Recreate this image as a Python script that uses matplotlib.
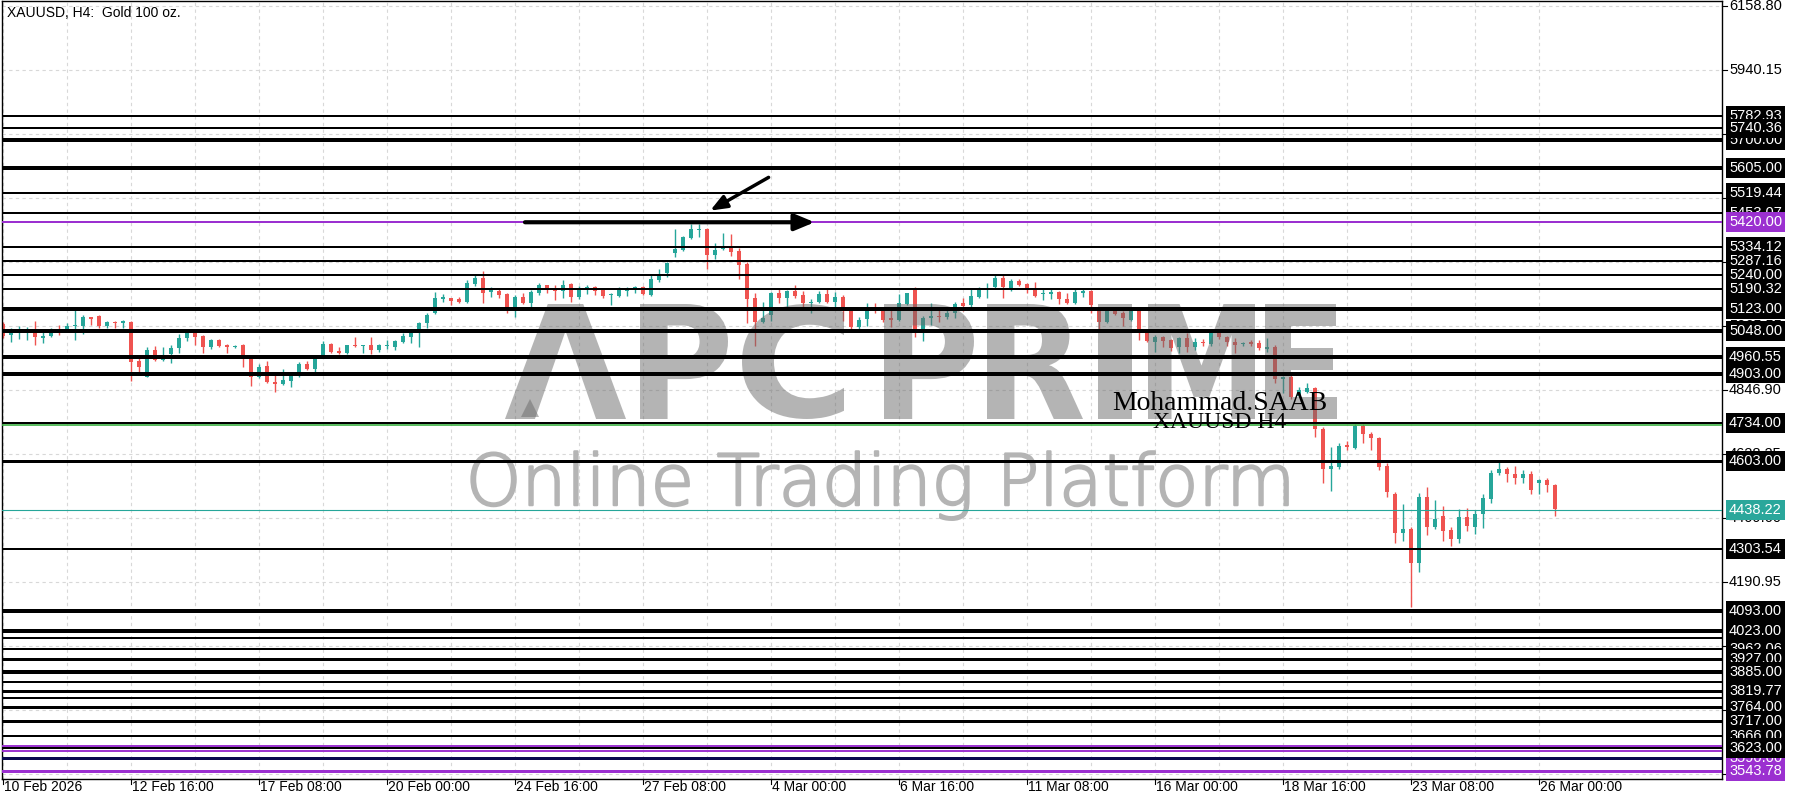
import numpy as np
import matplotlib.pyplot as plt
import matplotlib.transforms as mtransforms
import matplotlib.patheffects as pe
from matplotlib.transforms import blended_transform_factory, Affine2D
from matplotlib.textpath import TextPath
from matplotlib.patches import PathPatch
from matplotlib.font_manager import FontProperties

plt.rcParams['font.family'] = ['Liberation Sans', 'DejaVu Sans']

# ---- XAUUSD H4 candles ----
opens = [5072, 5034, 5040, 5048, 5052, 5026, 5031, 5055, 5054, 5064,
         5067, 5095, 5100, 5066, 5080, 5077, 5079, 4946, 4892, 4984,
         4949, 4970, 4989, 5023, 5045, 5031, 4993, 5018, 5001, 4994,
         5001, 4961, 4890, 4929, 4874, 4867, 4879, 4895, 4936, 4917,
         4958, 5004, 4981, 4972, 5000, 4997, 5001, 4984, 4997, 4993,
         5012, 5029, 5050, 5075, 5111, 5159, 5162, 5157, 5149, 5209,
         5228, 5183, 5186, 5175, 5120, 5166, 5143, 5179, 5204, 5194,
         5186, 5209, 5166, 5194, 5200, 5188, 5170, 5168, 5186, 5194,
         5200, 5171, 5223, 5245, 5314, 5325, 5365, 5392, 5396, 5308,
         5327, 5337, 5322, 5277, 5160, 5080, 5103, 5177, 5162, 5186,
         5171, 5144, 5149, 5175, 5149, 5163, 5120, 5063, 5088, 5126,
         5120, 5092, 5086, 5141, 5191, 5046, 5092, 5100, 5097, 5109,
         5145, 5137, 5166, 5189, 5198, 5230, 5191, 5220, 5209, 5194,
         5175, 5176, 5183, 5157, 5143, 5179, 5186, 5123, 5080, 5118,
         5111, 5086, 5123, 5041, 5012, 5027, 5018, 4993, 5023, 4995,
         5012, 5004, 5041, 5027, 5012, 5004, 5011, 5009, 4988, 4993,
         4883, 4893, 4826, 4841, 4853, 4713, 4576, 4585, 4659, 4648,
         4724, 4697, 4682, 4587, 4492, 4357, 4371, 4255, 4480, 4378,
         4416, 4369, 4337, 4414, 4380, 4423, 4473, 4565, 4576, 4560,
         4545, 4560, 4530, 4540, 4522]
highs = [5080, 5058, 5066, 5063, 5083, 5046, 5058, 5069, 5077, 5122,
         5103, 5097, 5103, 5083, 5083, 5086, 5083, 4961, 4993, 4997,
         4993, 5001, 5038, 5050, 5050, 5034, 5022, 5021, 5003, 5001,
         5004, 4966, 4935, 4947, 4910, 4917, 4904, 4944, 4947, 4966,
         5015, 5009, 4993, 5002, 5027, 5000, 5027, 5004, 5018, 5018,
         5040, 5052, 5080, 5109, 5183, 5175, 5162, 5166, 5223, 5240,
         5255, 5198, 5191, 5177, 5171, 5177, 5188, 5211, 5206, 5206,
         5223, 5211, 5202, 5206, 5202, 5191, 5177, 5198, 5198, 5202,
         5202, 5240, 5259, 5285, 5396, 5373, 5414, 5414, 5399, 5348,
         5382, 5380, 5331, 5285, 5177, 5149, 5183, 5191, 5188, 5206,
         5186, 5157, 5186, 5191, 5183, 5171, 5123, 5097, 5145, 5143,
         5123, 5120, 5175, 5179, 5198, 5100, 5143, 5120, 5123, 5149,
         5160, 5191, 5200, 5211, 5243, 5243, 5225, 5225, 5214, 5217,
         5191, 5191, 5186, 5177, 5191, 5191, 5189, 5129, 5120, 5120,
         5118, 5123, 5125, 5052, 5035, 5031, 5020, 5027, 5041, 5023,
         5020, 5046, 5043, 5031, 5023, 5012, 5018, 5018, 5023, 5001,
         4895, 4898, 4858, 4872, 4858, 4722, 4653, 4665, 4674, 4731,
         4731, 4705, 4685, 4599, 4500, 4458, 4378, 4494, 4517, 4471,
         4451, 4380, 4439, 4443, 4437, 4492, 4574, 4602, 4585, 4587,
         4574, 4571, 4542, 4545, 4526]
lows = [5025, 5012, 5020, 5018, 5001, 5006, 5029, 5035, 5050, 5018,
        5038, 5069, 5058, 5058, 5058, 5058, 4879, 4910, 4890, 4947,
        4946, 4938, 4972, 5015, 5001, 4974, 4986, 4993, 4974, 4991,
        4924, 4861, 4887, 4870, 4841, 4864, 4856, 4892, 4915, 4910,
        4955, 4974, 4970, 4969, 4993, 4972, 4970, 4978, 4986, 4984,
        5006, 5009, 4993, 5058, 5106, 5149, 5137, 5145, 5143, 5202,
        5145, 5163, 5160, 5109, 5095, 5141, 5126, 5171, 5179, 5154,
        5160, 5149, 5157, 5175, 5171, 5160, 5137, 5163, 5168, 5177,
        5171, 5168, 5217, 5234, 5302, 5323, 5362, 5371, 5259, 5293,
        5325, 5305, 5225, 5077, 4997, 5077, 5084, 5143, 5120, 5160,
        5132, 5111, 5143, 5145, 5123, 5084, 5050, 5052, 5066, 5111,
        5080, 5063, 5084, 5137, 5027, 5015, 5069, 5080, 5088, 5092,
        5118, 5132, 5160, 5160, 5191, 5160, 5186, 5202, 5177, 5166,
        5154, 5157, 5141, 5141, 5141, 5166, 5109, 5052, 5075, 5103,
        5066, 5084, 5018, 5012, 4978, 4995, 4981, 4972, 4978, 4984,
        4997, 4997, 5020, 4997, 4974, 4997, 4997, 4984, 4978, 4872,
        4838, 4815, 4822, 4838, 4688, 4530, 4503, 4576, 4642, 4644,
        4665, 4642, 4574, 4483, 4323, 4332, 4107, 4226, 4352, 4371,
        4332, 4314, 4325, 4366, 4355, 4374, 4460, 4557, 4534, 4526,
        4528, 4492, 4492, 4500, 4416]
closes = [5031, 5043, 5050, 5051, 5029, 5028, 5050, 5052, 5066, 5069,
          5095, 5088, 5066, 5079, 5075, 5080, 4944, 4924, 4984, 4949,
          4961, 4989, 5023, 5045, 5029, 4993, 5018, 4997, 4993, 4997,
          4958, 4890, 4927, 4873, 4867, 4881, 4895, 4936, 4917, 4958,
          5004, 4978, 4972, 5001, 4996, 5000, 4984, 5001, 5001, 5014,
          5031, 5046, 5077, 5103, 5160, 5161, 5152, 5149, 5211, 5228,
          5179, 5188, 5171, 5120, 5166, 5143, 5183, 5206, 5194, 5186,
          5206, 5166, 5194, 5198, 5186, 5168, 5172, 5188, 5194, 5198,
          5175, 5225, 5240, 5282, 5327, 5368, 5397, 5395, 5308, 5325,
          5337, 5319, 5274, 5157, 5080, 5092, 5177, 5160, 5186, 5168,
          5143, 5146, 5175, 5149, 5163, 5118, 5061, 5086, 5123, 5118,
          5086, 5086, 5143, 5177, 5046, 5092, 5100, 5097, 5111, 5141,
          5134, 5168, 5189, 5192, 5230, 5198, 5220, 5206, 5191, 5168,
          5179, 5178, 5157, 5143, 5183, 5186, 5137, 5080, 5118, 5107,
          5092, 5120, 5043, 5015, 5027, 5015, 4989, 5023, 4993, 5012,
          5006, 5041, 5027, 5012, 5001, 5009, 5004, 4989, 4990, 4883,
          4890, 4822, 4847, 4853, 4713, 4576, 4587, 4656, 4651, 4724,
          4697, 4682, 4585, 4500, 4357, 4371, 4255, 4480, 4378, 4407,
          4366, 4337, 4414, 4382, 4423, 4477, 4565, 4576, 4560, 4545,
          4560, 4505, 4540, 4522, 4439]

last_price = 4438.22

# x axis labels every 16 bars
date_labels = ["10 Feb 2026", "12 Feb 16:00", "17 Feb 08:00", "20 Feb 00:00",
               "24 Feb 16:00", "27 Feb 08:00", "4 Mar 00:00", "6 Mar 16:00",
               "11 Mar 08:00", "16 Mar 00:00", "18 Mar 16:00", "23 Mar 08:00",
               "26 Mar 00:00"]
date_bars = list(range(0, 16 * len(date_labels), 16))

price_ticks = [6158.80, 5940.15, 5721.50, 5502.85, 5284.20, 5065.55, 4846.90,
               4628.25, 4409.60, 4190.95, 3972.30, 3753.65, 3535.00]

# horizontal levels: price, line width (px), line colour, label colour
# (listed in drawing order, later labels cover earlier ones)
PURPLE = '#9b30d0'
NAVY = '#0a0a50'
levels = [5782.93, 5700.00, 5740.36, 5605.00, 5519.44, 5453.07, 5420.00,
          5334.12, 5287.16, 5240.00, 5190.32, 5123.00, 5048.00, 4960.55,
          4903.00, 4734.00, 4603.00, 4303.54, 4093.00, 4000.00, 4023.00,
          3962.06, 3927.00, 3850.00, 3885.00, 3793.00, 3819.77, 3764.00,
          3717.00, 3666.00, 3590.00, 3623.00, 3543.78]
level_px = [2, 4, 2, 4, 2, 2, 2,
            2, 2, 2, 2, 4, 4, 4,
            4, 2, 3, 2, 4, 2, 4,
            2, 3, 2, 4, 2, 3, 3,
            3, 2, 3, 2, 3]
level_colors = (['black'] * 6 + [PURPLE] + ['black'] * 23 + [NAVY, 'black', PURPLE])
level_box = (['black'] * 6 + [PURPLE] + ['black'] * 23 + [PURPLE, 'black', PURPLE])
extra_purple = [3632.0, 3612.0]

BULL = '#26a69a'
BEAR = '#ef5350'

# ---- figure ----
W, H, DPI = 1800, 800, 100
fig = plt.figure(figsize=(W / DPI, H / DPI), dpi=DPI)
L, R, T, B = 2, 1722, 1, 779
ax = fig.add_axes([L / W, 1 - B / H, (R - L) / W, (B - T) / H])

px_per_bar = 8
x_left = -0.125
x_right = x_left + (R - L) / px_per_bar
ax.set_xlim(x_left, x_right)
ppx = 3.4164  # price per pixel
y_top = 6158.80 + (6 - T) * ppx
y_bot = 6158.80 - (B - 6) * ppx
ax.set_ylim(y_bot, y_top)

for s in ax.spines.values():
    s.set_color('black')
    s.set_linewidth(1)
ax.set_xticks([])
ax.set_yticks([])

# grid
for g in range(0, 200, 8):
    ax.axvline(g, color='#d8d8d8', lw=0.8, ls=(0, (3, 3)), zorder=0)
for p in price_ticks:
    ax.axhline(p, color='#d8d8d8', lw=0.8, ls=(0, (3, 3)), zorder=0)

# candles
o = np.array(opens, float)
h = np.array(highs, float)
l = np.array(lows, float)
c = np.array(closes, float)
x = np.arange(len(o))
col = np.where(c >= o, BULL, BEAR)
ax.vlines(x, l, h, colors=col, lw=1.0, zorder=2)
body_lo = np.minimum(o, c)
body_h = np.maximum(np.abs(c - o), 1.2 * ppx)
ax.bar(x, body_h, bottom=body_lo, width=0.62, color=col, lw=0, zorder=2)

# watermark (translucent, over the candles, under the level lines)
WM = '#6a6a6a'
WA = 0.5
logo_letters = ["Λ", "P", "C", "P", "R", "I", "M", "E"]
logo_px = [(505, 626), (640, 728), (742, 844), (884, 974),
           (987, 1083), (1098, 1132), (1148, 1255), (1265, 1337)]
logo_top, logo_bot = 304, 419
fp = FontProperties(family='DejaVu Sans', weight='bold')
fy0 = 1 - (logo_bot - T) / (B - T)
fy1 = 1 - (logo_top - T) / (B - T)
for ch, (x0, x1) in zip(logo_letters, logo_px):
    tp = TextPath((0, 0), ch, size=1, prop=fp)
    ext = tp.get_extents()
    fx0 = (x0 - L) / (R - L)
    fx1 = (x1 - L) / (R - L)
    tr = (Affine2D().translate(-ext.x0, -ext.y0)
          .scale((fx1 - fx0) / ext.width, (fy1 - fy0) / ext.height)
          .translate(fx0, fy0))
    ax.add_patch(PathPatch(tr.transform_path(tp), transform=ax.transAxes,
                           fc=WM, ec='none', alpha=WA, zorder=3))
ax.plot([(530 - L) / (R - L)], [1 - (408 - T) / (B - T)], marker='^', ms=13,
        color=WM, alpha=WA, transform=ax.transAxes, zorder=3, mew=0)
ax.text(0.511, 0.352, "Online Trading Platform", transform=ax.transAxes,
        ha='center', va='baseline', fontsize=51, color='#b4b4b4',
        family='DejaVu Sans', fontweight='light', zorder=3,
        path_effects=[pe.withStroke(linewidth=1.6, foreground='#b4b4b4')])

# horizontal levels
for p in extra_purple:
    ax.axhline(p, color=PURPLE, lw=1.4, zorder=4)
for p, w, cc in zip(levels, level_px, level_colors):
    ax.axhline(p, color=cc, lw=w * 0.72, zorder=4)
ax.axhline(4729, color='#3cb043', lw=1.2, zorder=4)
ax.axhline(last_price, color=BULL, lw=0.8, zorder=4)

# arrows
ax.annotate("", xy=(101.8, 5420), xytext=(64.9, 5420),
            arrowprops=dict(arrowstyle='-|>,head_length=1.2,head_width=0.5',
                            color='black', lw=3), zorder=5)
ax.annotate("", xy=(88.1, 5455), xytext=(96.0, 5578),
            arrowprops=dict(arrowstyle='-|>,head_length=1.0,head_width=0.4',
                            color='black', lw=2.5), zorder=5)

# text objects
ax.text(138.7, 4778, "Mohammad.SAAB", family='Liberation Serif', fontsize=20,
        color='black', va='baseline', zorder=6)
ax.text(143.7, 4717, "XAUUSD H4", family='Liberation Serif', fontsize=17,
        color='black', va='baseline', zorder=6)

ax.text(0.003, 0.985, "XAUUSD, H4:  Gold 100 oz.", transform=ax.transAxes,
        fontsize=10, va='center', ha='left')

# right price axis
FS = 10.5
ry = blended_transform_factory(ax.transAxes, ax.transData)
off = mtransforms.ScaledTranslation(7 / DPI, 0, fig.dpi_scale_trans)
for p in price_ticks:
    ax.plot([1, 1.003], [p, p], transform=ry, color='black', lw=0.8, clip_on=False)
    ax.text(1, p, f"{p:.2f}", transform=ry + off, fontsize=FS, va='center',
            ha='left', clip_on=False)
for i, (p, bc) in enumerate(zip(levels, level_box)):
    ax.text(1, p, f"{p:.2f}", transform=ry + off, fontsize=FS, va='center',
            ha='left', color='white', clip_on=False, zorder=10 + i,
            bbox=dict(boxstyle='square,pad=0.2', fc=bc, ec='none'))
ax.text(1, last_price, f"{last_price:.2f}", transform=ry + off, fontsize=FS,
        va='center', ha='left', color='white', clip_on=False, zorder=60,
        bbox=dict(boxstyle='square,pad=0.2', fc='#2aa79b', ec='none'))

# bottom time axis
bx = blended_transform_factory(ax.transData, ax.transAxes)
offx = mtransforms.ScaledTranslation(1 / DPI, -8 / DPI, fig.dpi_scale_trans)
for b, lab in zip(date_bars, date_labels):
    ax.plot([b, b], [0, -0.007], transform=bx, color='black', lw=0.8, clip_on=False)
    ax.text(b, 0, lab, transform=bx + offx, fontsize=10, va='center', ha='left',
            clip_on=False)

fig.savefig("out.png", dpi=DPI)
